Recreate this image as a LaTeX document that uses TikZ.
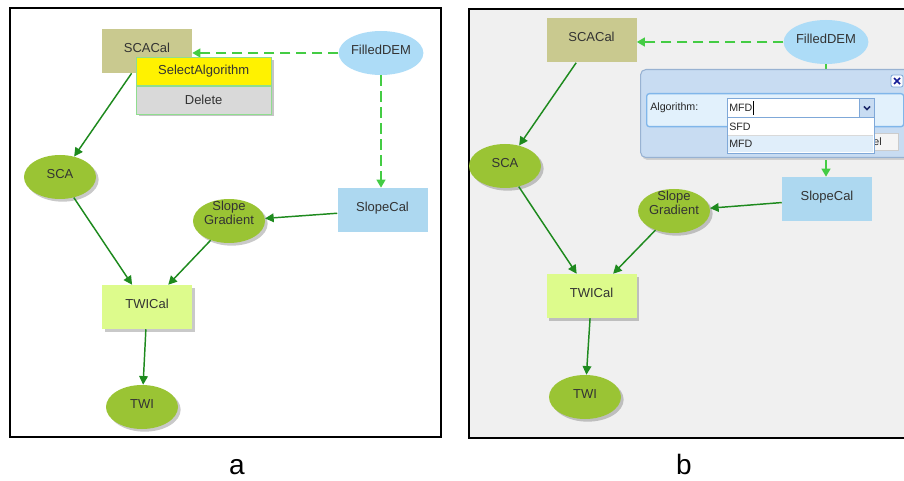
\documentclass[tikz,border=0pt]{standalone}
\usepackage{fontspec}
\setmainfont{Liberation Sans}
\usetikzlibrary{shapes.geometric,shadows,arrows.meta}

\definecolor{calkhaki}{HTML}{C9C98F}
\definecolor{demblue}{HTML}{ADDCF7}
\definecolor{slopeblue}{HTML}{ADD8F0}
\definecolor{leafgreen}{HTML}{9AC434}
\definecolor{limegreen}{HTML}{DDFB8C}
\definecolor{flowgreen}{HTML}{1E8A1E}
\definecolor{dashgreen}{HTML}{44CC44}
\definecolor{nodetext}{HTML}{333333}
\definecolor{menugray}{HTML}{D9D9D9}
\definecolor{menuedge}{HTML}{8FDD8F}
\definecolor{canvasgray}{HTML}{F0F0F0}
\definecolor{dlgfill}{HTML}{C8DCF2}
\definecolor{dlgedge}{HTML}{98B2D2}
\definecolor{rowfill}{HTML}{E2F1FC}
\definecolor{rowedge}{HTML}{80B6EA}
\definecolor{fieldedge}{HTML}{7FA8D8}
\definecolor{pickfill}{HTML}{E0EEFA}
\definecolor{navy}{HTML}{1F2A6B}

\tikzset{
  lbl/.style={text=nodetext, font=\fontsize{9.75}{10}\selectfont,
    text height=0.75em, text depth=0.55em, inner sep=0pt},
  procbox/.style={lbl, rectangle, minimum width=67.5pt, minimum height=33pt},
  databall/.style={lbl, ellipse, minimum width=54pt, minimum height=33pt},
  softshadow/.style={drop shadow={shadow xshift=2pt, shadow yshift=-2pt,
    opacity=0.3, fill=black!70}},
  flow/.style={draw=flowgreen, line width=1.1pt,
    -{Triangle[length=6.5pt,width=6.5pt]}},
  dataflow/.style={draw=dashgreen, line width=1.5pt, dash pattern=on 8pt off 4pt,
    -{Triangle[length=6pt,width=6.5pt]}},
  menuitem/.style={text=nodetext, font=\fontsize{9.75}{10}\selectfont,
    minimum width=101pt, minimum height=21pt, inner sep=0pt, draw=menuedge, line width=0.5pt},
  uitext/.style={text=black!85, font=\fontsize{8}{9}\selectfont, inner sep=0pt},
  panelname/.style={font=\fontsize{21}{22}\selectfont, inner sep=0pt, anchor=base}
}

\begin{document}
\begin{tikzpicture}[x=0.75pt,y=-0.75pt]
\useasboundingbox (0,0) rectangle (904,481);
\clip (0,0) rectangle (904,481);

% ---------------- panel a ----------------
\node[draw=black, line width=1.5pt, minimum width=323pt, minimum height=321.75pt,
  inner sep=0pt] (framea) at (225.5,222.5) {};

\node[procbox, fill=calkhaki] (scacalA) at (147,51) {SCACal};
\node[databall, fill=demblue] (demA) at (381,53) {FilledDEM};
\node[databall, fill=leafgreen, softshadow] (scaA) at (60,177) {SCA};
\node[procbox, fill=slopeblue] (slopecalA) at (382.5,210) {SlopeCal};
\node[ellipse, fill=leafgreen, softshadow, minimum width=54pt, minimum height=33pt,
  inner sep=0pt] (gradA) at (229,221) {};
\node[text=nodetext, font=\fontsize{9.75}{8.6}\selectfont, align=center, inner sep=0pt]
  (gradAtxt) at (229,213) {Slope\\Gradient};
\node[procbox, fill=limegreen, softshadow] (twicalA) at (147,307) {TWICal};
\node[databall, fill=leafgreen, softshadow] (twiA) at (142,407) {TWI};

\draw[dataflow] (demA) -- (demA -| scacalA.east);
\draw[dataflow] (demA) -- (slopecalA.north -| demA);
\draw[flow] (scacalA) -- (scaA);
\draw[flow] (scaA) -- (twicalA);
\draw[flow] (gradA) -- (twicalA);
\draw[flow] (slopecalA) -- (gradA);
\draw[flow] (twicalA) -- (twiA);

% context menu of SCACal
\fill[black!45, opacity=0.5] (139,60) rectangle (274,116);
\node[menuitem, fill=yellow, anchor=north west] (selalg) at (136,57) {SelectAlgorithm};
\node[menuitem, fill=menugray, anchor=north] (delitem) at (selalg.south) {Delete};

\node[panelname] (namea) at (237,474) {a};

% ---------------- panel b ----------------
\node[draw=black, fill=canvasgray, line width=1.5pt, anchor=north west,
  minimum width=345pt, minimum height=321.75pt, inner sep=0pt] (frameb) at (468,8) {};

\node[procbox, fill=calkhaki] (scacalB) at (591.5,40.5) {SCACal};
\node[databall, fill=demblue] (demB) at (826,42) {FilledDEM};
\node[databall, fill=leafgreen, softshadow] (scaB) at (505,166) {SCA};
\node[procbox, fill=slopeblue] (slopecalB) at (827,199) {SlopeCal};
\node[ellipse, fill=leafgreen, softshadow, minimum width=54pt, minimum height=33pt,
  inner sep=0pt] (gradB) at (674,211) {};
\node[text=nodetext, font=\fontsize{9.75}{8.6}\selectfont, align=center, inner sep=0pt]
  (gradBtxt) at (674,203) {Slope\\Gradient};
\node[procbox, fill=limegreen, softshadow] (twicalB) at (591.5,296) {TWICal};
\node[databall, fill=leafgreen, softshadow] (twiB) at (585,397) {TWI};

\draw[dataflow] (demB) -- (demB -| scacalB.east);
\draw[dataflow] (demB) -- (slopecalB.north -| demB);
\draw[flow] (scacalB) -- (scaB);
\draw[flow] (scaB) -- (twicalB);
\draw[flow] (gradB) -- (twicalB);
\draw[flow] (slopecalB) -- (gradB);
\draw[flow] (twicalB) -- (twiB);

% algorithm dialog
\fill[black!30, opacity=0.5, rounded corners=4] (642,72) rectangle (920,160);
\node[draw=dlgedge, fill=dlgfill, rounded corners=4, line width=0.8pt, anchor=north west,
  minimum width=210pt, minimum height=66pt, inner sep=0pt] (dialog) at (640,69) {};
\node[draw=rowedge, fill=rowfill, rounded corners=2, line width=1pt, anchor=north west,
  minimum width=192.75pt, minimum height=24.75pt, inner sep=0pt] (algrow) at (646,93) {};
\node[uitext, anchor=west] (alglabel) at (650,108) {Algorithm:};

% close button
\node[draw=fieldedge, fill=white!90!dlgfill, rounded corners=1.5, line width=0.6pt,
  minimum width=9pt, minimum height=9pt, inner sep=0pt] (closebtn) at (897,81) {};
\draw[navy!70!blue, line width=1.2pt] ([shift={(-3,-3)}]closebtn.center) -- ([shift={(3,3)}]closebtn.center)
  ([shift={(-3,3)}]closebtn.center) -- ([shift={(3,-3)}]closebtn.center);

% partly hidden cancel button
\node[draw=black!20, fill=black!4, anchor=north east, minimum width=42pt, minimum height=13pt,
  inner sep=0pt] (cancelbtn) at (899,133) {};
\node[uitext, anchor=east] (canceltxt) at (882,141.5) {Cancel};

% combo box with its open list
\node[draw=fieldedge, fill=white, line width=0.7pt, anchor=north west,
  minimum width=110.25pt, minimum height=14.25pt, inner sep=0pt] (combo) at (727,98) {};
\node[draw=fieldedge, fill=dlgfill, line width=0.7pt, anchor=north east,
  minimum width=11.25pt, minimum height=14.25pt, inner sep=0pt] (dropbtn) at (combo.north east) {};
\draw[navy, line width=1.2pt] ([shift={(-3,-1.5)}]dropbtn.center) -- ([shift={(0,1.5)}]dropbtn.center)
  -- ([shift={(3,-1.5)}]dropbtn.center);
\node[uitext, anchor=west] (combotxt) at (729,108) {MFD};
\draw[black, line width=0.5pt] ([xshift=0.8pt,yshift=-5pt]combotxt.east) -- ([xshift=0.8pt,yshift=5pt]combotxt.east);

\node[draw=fieldedge, fill=white, line width=0.7pt, anchor=north west,
  minimum width=110.25pt, minimum height=27pt, inner sep=0pt] (pick) at (727,117) {};
\fill[pickfill] (728,135.5) rectangle (873,152.5);
\draw[black!15, line width=0.4pt] (728,135.5) -- (873,135.5);
\node[uitext, anchor=west] (sfdopt) at (729,127) {SFD};
\node[uitext, anchor=west] (mfdopt) at (729,144) {MFD};

\node[panelname] (nameb) at (684,474) {b};
\end{tikzpicture}
\end{document}
